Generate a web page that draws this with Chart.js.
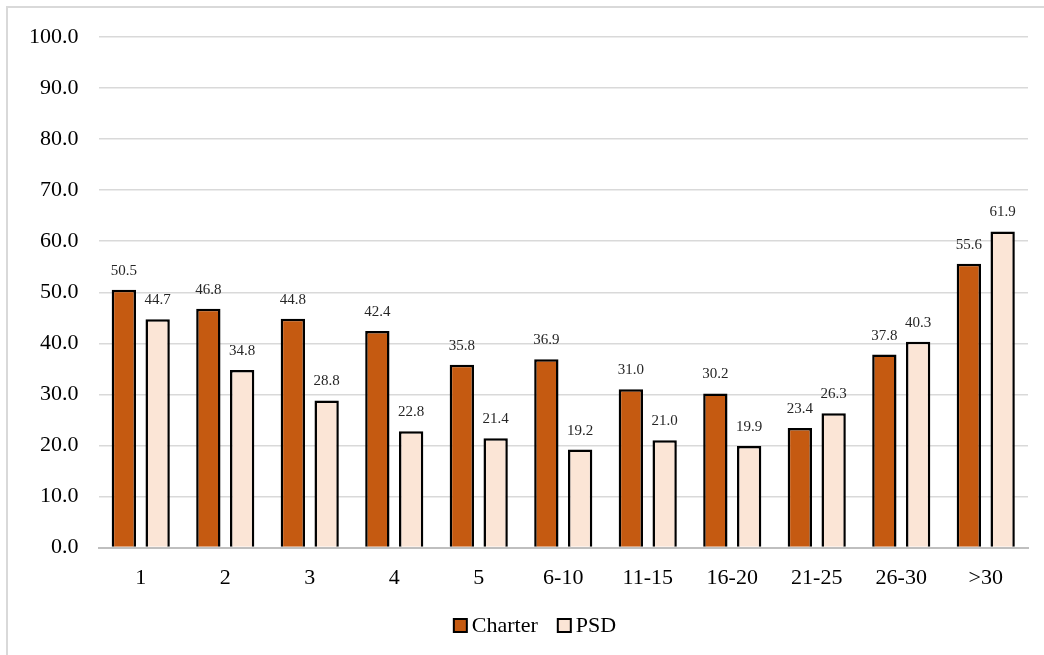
<!DOCTYPE html>
<html>
<head>
<meta charset="utf-8">
<script src="https://cdn.jsdelivr.net/npm/chart.js@4"></script>
<style>
  html, body { margin: 0; padding: 0; background: #fff; }
  #wrap { position: relative; width: 1044px; height: 655px; }
</style>
</head>
<body>
<div id="wrap"><canvas id="chart"></canvas></div>
<script>
// categories (years of experience groups)
const categories = ['1', '2', '3', '4', '5', '6-10', '11-15', '16-20', '21-25', '26-30', '>30'];
const charterValues = [50.5, 46.8, 44.8, 42.4, 35.8, 36.9, 31.0, 30.2, 23.4, 37.8, 55.6];
const psdValues = [44.7, 34.8, 28.8, 22.8, 21.4, 19.2, 21.0, 19.9, 26.3, 40.3, 61.9];
const yTicks = [0, 10, 20, 30, 40, 50, 60, 70, 80, 90, 100];

const FONT = "'Liberation Serif', 'Times New Roman', serif";

// outer frame of the chart box
const framePlugin = {
  id: 'frame',
  beforeDraw(chart) {
    const ctx = chart.ctx;
    ctx.save();
    ctx.fillStyle = '#fff';
    ctx.fillRect(0, 0, chart.width, chart.height);
    ctx.strokeStyle = '#d9d9d9';
    ctx.lineWidth = 2;
    ctx.strokeRect(7, 7, chart.width + 20, chart.height + 20);
    ctx.restore();
  }
};

// value labels above every bar
const valueLabels = {
  id: 'valueLabels',
  afterDatasetsDraw(chart) {
    const ctx = chart.ctx;
    ctx.save();
    ctx.font = '15px ' + FONT;
    ctx.fillStyle = '#262626';
    ctx.textAlign = 'center';
    ctx.textBaseline = 'middle';
    chart.data.datasets.forEach((ds, i) => {
      chart.getDatasetMeta(i).data.forEach((bar, j) => {
        ctx.fillText(ds.data[j].toFixed(1), bar.x, bar.y - 19);
      });
    });
    ctx.restore();
  }
};

// legend drawn by hand so box/text spacing matches the original
const bottomLegend = {
  id: 'bottomLegend',
  afterDraw(chart) {
    const ctx = chart.ctx;
    const box = 13, gapText = 5, gapItem = 20, cy = 625.5, cx = 535;
    ctx.save();
    ctx.font = '22px ' + FONT;
    ctx.textBaseline = 'middle';
    const items = chart.data.datasets.map(ds => ({
      label: ds.label, fill: ds.backgroundColor, w: ctx.measureText(ds.label).width,
    }));
    const total = items.reduce((s, it) => s + box + gapText + it.w, 0) + gapItem * (items.length - 1);
    let x = cx - total / 2;
    items.forEach(it => {
      ctx.fillStyle = it.fill;
      ctx.fillRect(x, cy - box / 2, box, box);
      ctx.strokeStyle = '#000';
      ctx.lineWidth = 2;
      ctx.strokeRect(x, cy - box / 2, box, box);
      ctx.fillStyle = '#000';
      ctx.fillText(it.label, x + box + gapText, cy + 1);
      x += box + gapText + it.w + gapItem;
    });
    ctx.restore();
  }
};

new Chart(document.getElementById('chart'), {
  type: 'bar',
  data: {
    labels: categories,
    datasets: [
      {
        label: 'Charter',
        data: charterValues,
        backgroundColor: '#c55a11',
        borderColor: '#000',
        borderWidth: 2.5,
        borderSkipped: 'bottom',
        categoryPercentage: 0.8,
        barPercentage: 0.72,
      },
      {
        label: 'PSD',
        data: psdValues,
        backgroundColor: '#fbe5d6',
        borderColor: '#000',
        borderWidth: 2.5,
        borderSkipped: 'bottom',
        categoryPercentage: 0.8,
        barPercentage: 0.72,
      },
    ],
  },
  options: {
    responsive: true,
    maintainAspectRatio: false,
    animation: false,
    layout: { padding: { left: 9, right: 16, top: 37, bottom: 47 } },
    plugins: {
      legend: { display: false },
      tooltip: { enabled: false },
    },
    scales: {
      x: {
        grid: { display: false, drawTicks: false },
        border: { display: true, color: '#bfbfbf', width: 2 },
        ticks: { color: '#000', font: { family: FONT, size: 22 }, padding: 17, maxRotation: 0 },
      },
      y: {
        min: 0,
        max: 100,
        afterBuildTicks(scale) { scale.ticks = yTicks.map(v => ({ value: v })); },
        grid: { color: '#d9d9d9', lineWidth: 1.5, drawTicks: false },
        border: { display: false },
        ticks: {
          color: '#000',
          font: { family: FONT, size: 22 },
          padding: 20,
          callback: v => Number(v).toFixed(1),
        },
      },
    },
  },
  plugins: [framePlugin, valueLabels, bottomLegend],
});
</script>
</body>
</html>
